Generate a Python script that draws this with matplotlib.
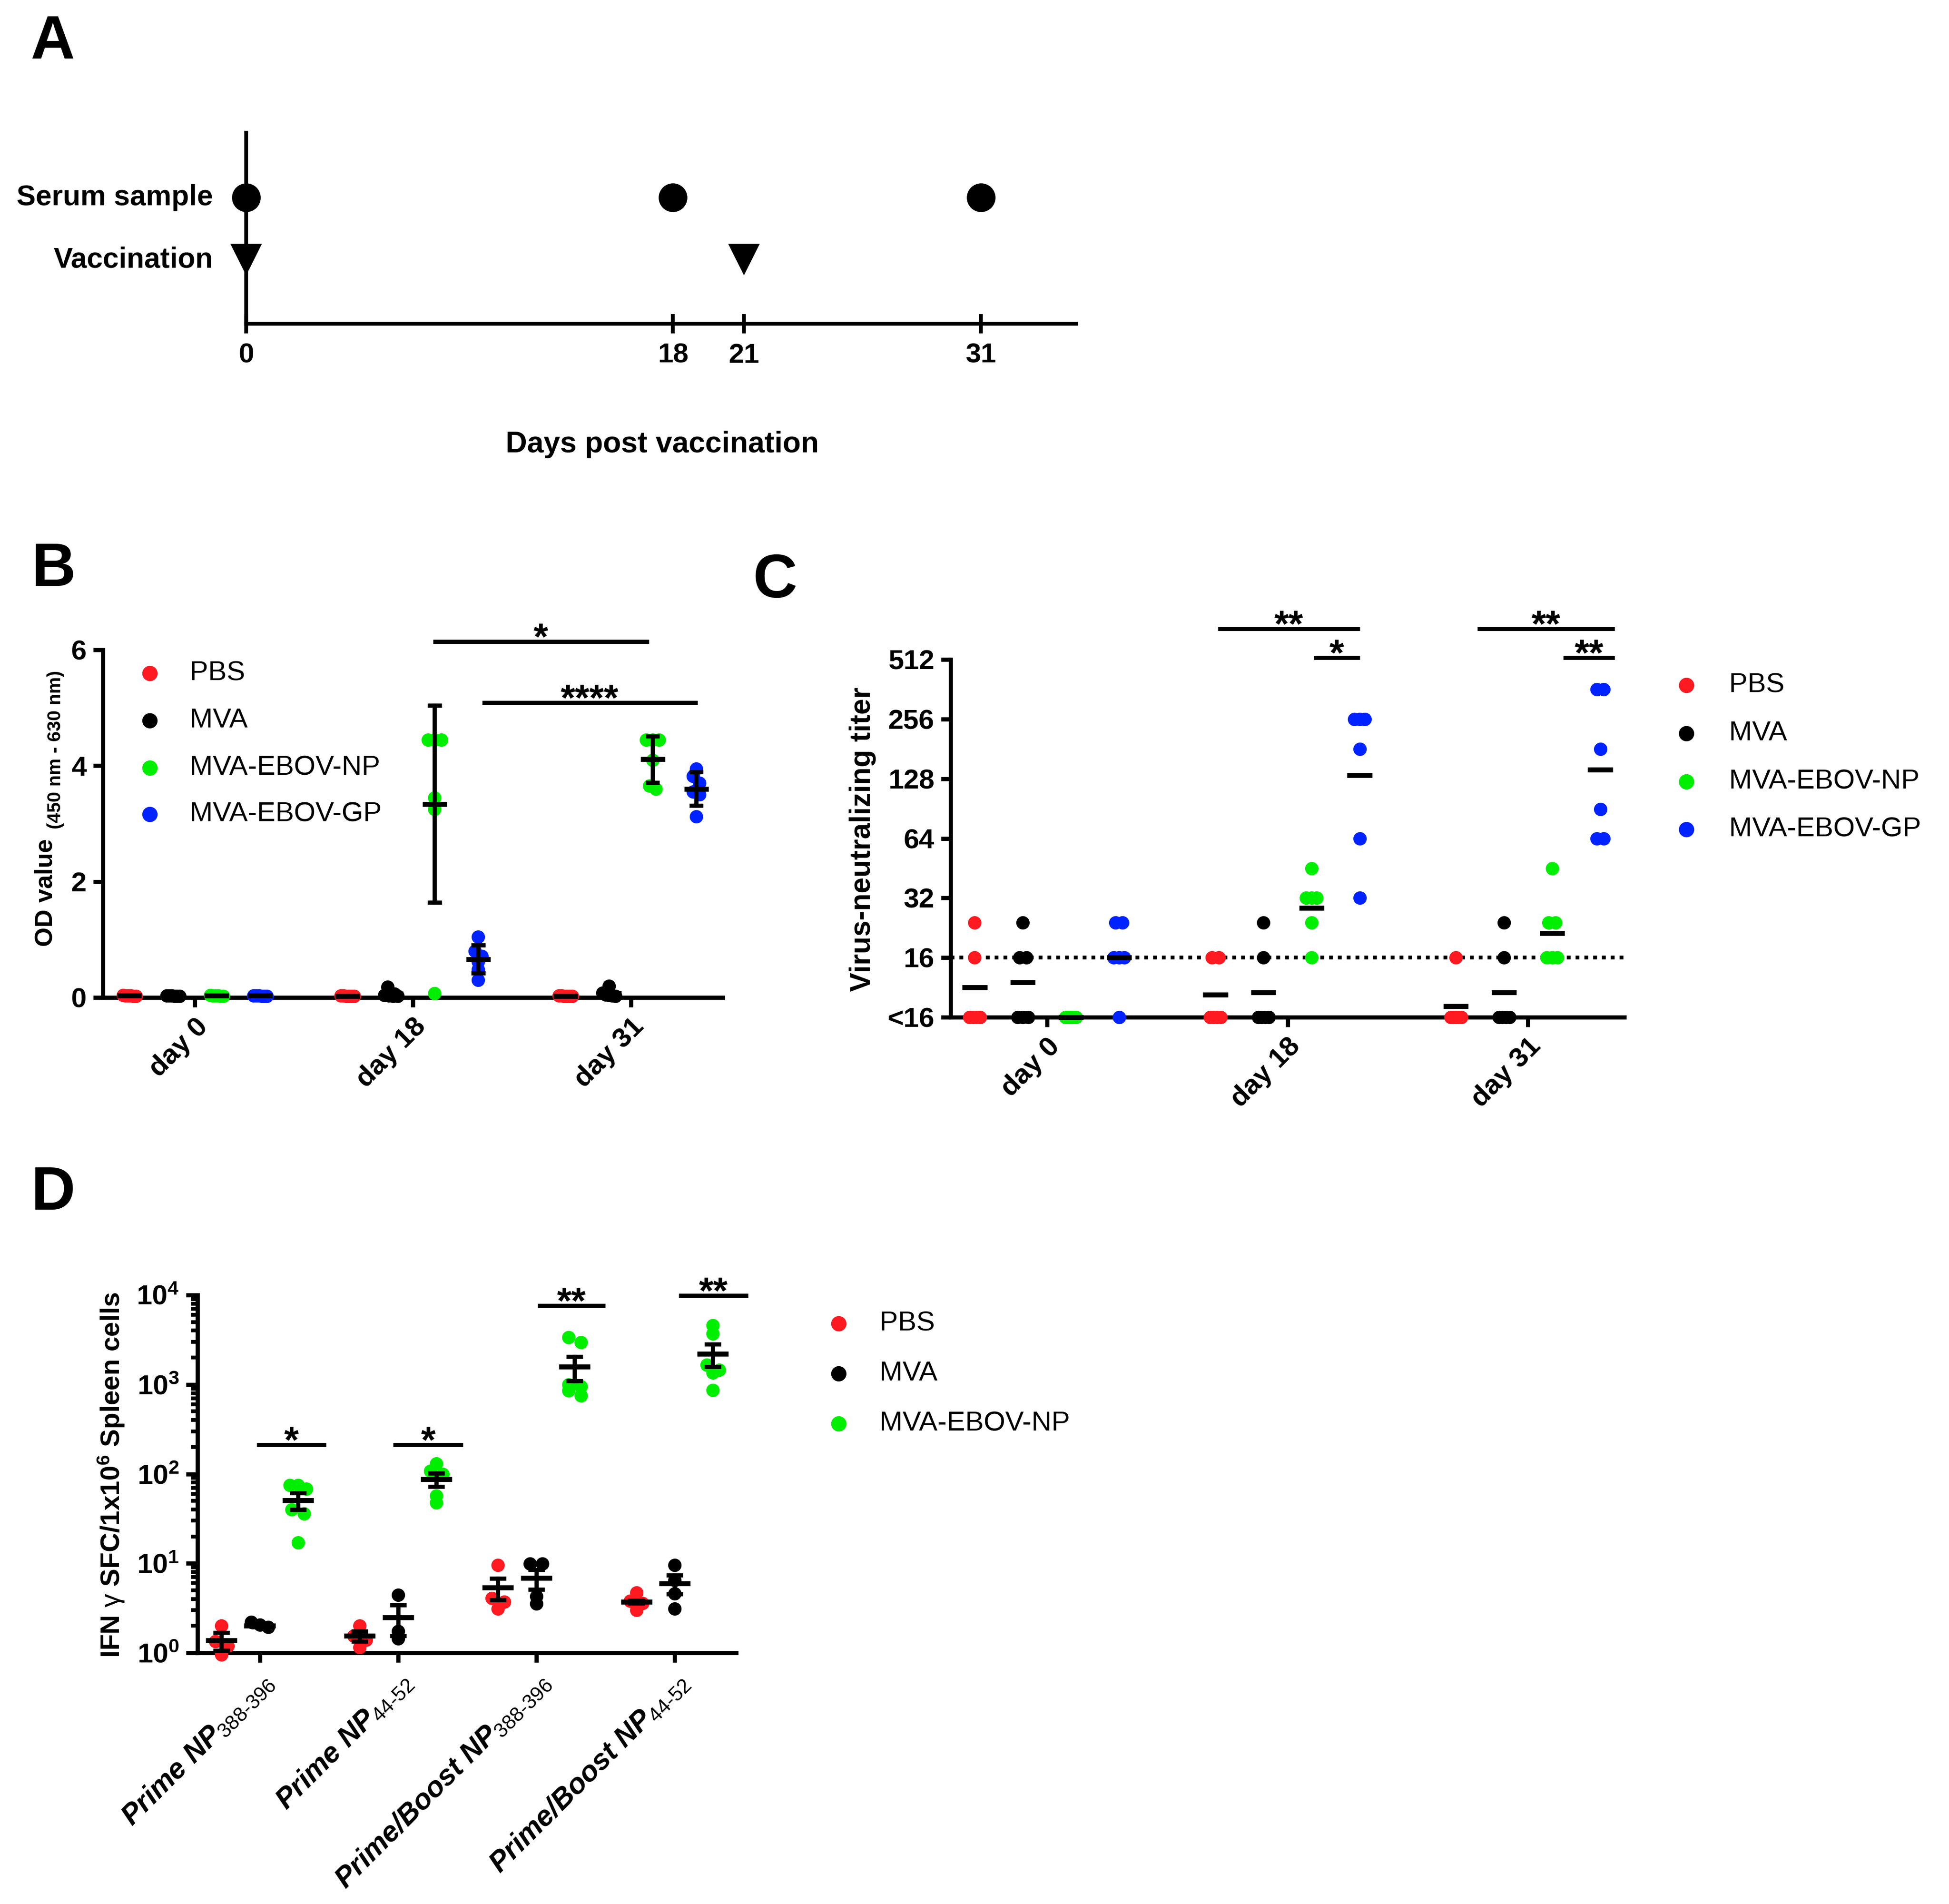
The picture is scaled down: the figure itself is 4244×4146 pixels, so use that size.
import numpy as np
import matplotlib.pyplot as plt
from matplotlib.lines import Line2D
from matplotlib.ticker import FixedLocator, FuncFormatter, LogLocator, NullFormatter

plt.rcParams['font.family'] = ['Liberation Sans', 'DejaVu Sans']
plt.rcParams['mathtext.fontset'] = 'custom'
plt.rcParams['mathtext.rm'] = 'Liberation Sans'
plt.rcParams['mathtext.it'] = 'Liberation Sans:italic'
plt.rcParams['mathtext.bf'] = 'Liberation Sans:bold'

W, H = 4244, 4146
DPI = 300

# ---------------- data ----------------
series_names = ['PBS', 'MVA', 'MVA-EBOV-NP', 'MVA-EBOV-GP']
series_colors = ['#FF1A22', '#000000', '#00EE00', '#0022FF']

# panel A: schedule
timeline_ticks = [0, 18, 21, 31]
serum_days = [0, 18, 31]
vaccination_days = [0, 21]

# panel B: ELISA OD values, [day0, day18, day31]
days = ['day 0', 'day 18', 'day 31']
od_pbs = [[0.04, 0.03, 0.02, 0.03, 0.02, 0.03],
          [0.02, 0.03, 0.02, 0.02, 0.03, 0.02],
          [0.03, 0.02, 0.02, 0.03, 0.02, 0.02]]
od_mva = [[0.03, 0.02, 0.03, 0.02, 0.03, 0.02],
          [0.18, 0.06, 0.04, 0.03, 0.02, 0.02],
          [0.20, 0.08, 0.05, 0.04, 0.03, 0.02]]
od_np = [[0.04, 0.03, 0.03, 0.02, 0.02, 0.03],
         [4.45, 4.45, 4.45, 3.45, 3.25, 0.07],
         [4.45, 4.45, 4.45, 4.10, 3.65, 3.60]]
od_gp = [[0.03, 0.03, 0.02, 0.02, 0.03, 0.02],
         [1.05, 0.80, 0.71, 0.62, 0.48, 0.30],
         [3.95, 3.82, 3.70, 3.55, 3.50, 3.12]]
od_mean = [[0.03, 0.02, 0.02], [0.03, 0.06, 0.07], [0.03, 3.34, 4.11], [0.03, 0.66, 3.60]]
od_sd = [[0, 0, 0], [0, 0, 0], [0, 1.70, 0.40], [0, 0.24, 0.29]]
od_brackets = [(5.46, 10.41, 6.14, '*'), (6.59, 11.53, 5.09, '****')]

# panel C: neutralizing titers (<16 plotted as 8)
titer_pbs = [[24, 16, 8, 8, 8, 8], [16, 16, 8, 8, 8, 8], [16, 8, 8, 8, 8, 8]]
titer_mva = [[24, 16, 16, 8, 8, 8], [24, 16, 8, 8, 8, 8], [24, 16, 8, 8, 8, 8]]
titer_np = [[8, 8, 8, 8, 8, 8], [45, 32, 32, 32, 24, 16], [45, 24, 24, 16, 16, 16]]
titer_gp = [[24, 24, 16, 16, 16, 8], [256, 256, 256, 181, 64, 32], [362, 362, 181, 90, 64, 64]]
titer_mean = [[11.3, 10.4, 9.1], [12.0, 10.7, 10.7], [8, 28.5, 21.3], [16, 133, 142]]
titer_ticks = [8, 16, 32, 64, 128, 256, 512]
titer_labels = ['<16', '16', '32', '64', '128', '256', '512']
titer_brackets = [(3.55, 6.5, 732, '**'), (5.55, 6.5, 523, '*'),
                  (8.95, 11.8, 732, '**'), (10.73, 11.8, 523, '**')]

# panel D: ELISpot
peptides = [r'Prime NP$_{\mathit{388}\text{-}\mathit{396}}$',
            r'Prime NP$_{\mathit{44}\text{-}\mathit{52}}$',
            r'Prime/Boost NP$_{\mathit{388}\text{-}\mathit{396}}$',
            r'Prime/Boost NP$_{\mathit{44}\text{-}\mathit{52}}$']
sfc_pbs = [[2.0, 1.35, 1.2, 0.95], [2.0, 1.55, 1.4, 1.15], [9.6, 4.1, 3.7, 3.1], [4.7, 3.8, 3.6, 3.0]]
sfc_mva = [[2.2, 2.05, 1.93], [4.45, 1.75, 1.45], [9.9, 9.9, 4.3, 3.55], [9.6, 6.5, 4.6, 3.1]]
sfc_np = [[75, 75, 68, 40, 36, 17], [130, 108, 100, 57, 48],
          [3350, 2950, 1000, 950, 850, 750], [4600, 3700, 1650, 1450, 1350, 870]]
sfc_mean = [[1.37, 1.54, 5.33, 3.72], [2.0, 2.49, 6.84, 5.94], [50.6, 87, 1580, 2207]]
sfc_sem = [[0.31, 0.2, 1.45, 0.12], [0.05, 0.95, 1.7, 1.4], [10.5, 15, 480, 620]]
sfc_brackets = [(-0.02, 0.48, 211, '*'), (0.965, 1.47, 211, '*'),
                (2.01, 2.5, 7590, '**'), (3.03, 3.53, 9870, '**')]


# ---------------- helpers ----------------
def fx(x):
    return x / W


def fy(y):
    return 1 - y / H


def axes_px(left, right, top, bottom):
    return fig.add_axes([fx(left), fy(bottom), (right - left) / W, (bottom - top) / H])


def spread(vals, tol, step, maxw):
    vals = np.asarray(vals, float)
    off = np.zeros(len(vals))
    order = np.argsort(-vals, kind='stable')
    i = 0
    while i < len(order):
        j = i
        while j + 1 < len(order) and abs(vals[order[j + 1]] - vals[order[i]]) <= tol:
            j += 1
        k = j - i + 1
        if k > 1:
            s = min(step, maxw / (k - 1))
            off[order[i:j + 1]] = (np.arange(k) - (k - 1) / 2) * s
        i = j + 1
    return off


def style_axes(ax):
    for s in ['top', 'right']:
        ax.spines[s].set_visible(False)
    for s in ['left', 'bottom']:
        ax.spines[s].set_linewidth(2.2)
    ax.tick_params(width=2.2, length=5, labelsize=14.5, direction='out')
    for lab in ax.get_yticklabels() + ax.get_xticklabels():
        lab.set_fontweight('bold')


def legend(xm, xt, ys, names, cols):
    for y, n, c in zip(ys, names, cols):
        fig.add_artist(Line2D([fx(xm)], [fy(y)], marker='o', ms=7, color=c, lw=0,
                              transform=fig.transFigure))
        fig.text(fx(xt), fy(y), n, fontsize=14.5, va='center', ha='left')


def bracket(ax, x0, x1, y, star):
    ax.plot([x0, x1], [y, y], color='k', lw=2.2, clip_on=False, solid_capstyle='butt')
    ax.annotate(star, xy=((x0 + x1) / 2, y), xytext=(0, -4), textcoords='offset points',
                ha='center', va='baseline', fontsize=19.5, fontweight='bold', annotation_clip=False)


def mean_bar(ax, x, m, err, half_mean, half_cap):
    ax.plot([x - half_mean, x + half_mean], [m, m], color='k', lw=2.6, clip_on=False,
            solid_capstyle='butt', zorder=4)
    if err > 0:
        ax.plot([x, x], [m - err, m + err], color='k', lw=2.2, clip_on=False, zorder=4)
        for yy in (m - err, m + err):
            ax.plot([x - half_cap, x + half_cap], [yy, yy], color='k', lw=2.2,
                    clip_on=False, solid_capstyle='butt', zorder=4)


fig = plt.figure(figsize=(W / DPI, H / DPI), dpi=DPI)

# ---------------- panel A ----------------
axA = axes_px(536, 2343, 289, 705)
axA.set_xlim(0, 35)
axA.set_ylim(0, 1)
for s in ['top', 'right']:
    axA.spines[s].set_visible(False)
axA.spines['left'].set_linewidth(2)
axA.spines['bottom'].set_linewidth(2)
axA.set_yticks([])
axA.set_xticks(timeline_ticks)
axA.set_xticklabels([str(t) for t in timeline_ticks], fontweight='bold')
axA.tick_params(axis='x', direction='inout', length=10, width=2, labelsize=14.5, pad=5)
axA.plot(serum_days, [0.661] * len(serum_days), 'o', color='k', ms=14, clip_on=False)
axA.plot(vaccination_days, [0.339] * len(vaccination_days), 'v', color='k', ms=15, clip_on=False)
fig.text(fx(464), fy(430), 'Serum sample', ha='right', va='center', fontsize=15, fontweight='bold')
fig.text(fx(464), fy(566), 'Vaccination', ha='right', va='center', fontsize=15, fontweight='bold')
fig.text(fx(1442), fy(968), 'Days post vaccination', ha='center', va='center',
         fontsize=15.5, fontweight='bold')

# ---------------- panel B ----------------
axB = axes_px(224, 1574, 1415, 2172)
axB.set_xlim(-2.11, 12.11)
axB.set_ylim(0, 6)
od_all = [od_pbs, od_mva, od_np, od_gp]
for si, grp in enumerate(od_all):
    for di, vals in enumerate(grp):
        xc = di * 5 + (si - 1.5)
        off = spread(vals, 0.12, 0.15, 0.3)
        axB.scatter(xc + off, vals, s=49, color=series_colors[si], lw=0, clip_on=False, zorder=3)
        mean_bar(axB, xc, od_mean[si][di], od_sd[si][di], 0.28, 0.16)
axB.set_yticks([0, 2, 4, 6])
axB.set_xticks([0, 5, 10])
axB.set_xticklabels(days, rotation=45, ha='right', va='top', rotation_mode='anchor')
style_axes(axB)
for b in od_brackets:
    bracket(axB, *b)
fig.text(fx(100), fy(1944), 'OD value', rotation=90, ha='center', va='center',
         fontsize=13, fontweight='bold')
fig.text(fx(121), fy(1633), '(450 nm - 630 nm)', rotation=90, ha='center', va='center',
         fontsize=9.8, fontweight='bold')
legend(326, 413, [1466, 1569, 1672, 1773], series_names, series_colors)

# ---------------- panel C ----------------
axC = axes_px(2070, 3537, 1436, 2215)
axC.set_yscale('log', base=2)
axC.set_xlim(-2, 12)
axC.set_ylim(8, 512)
axC.axhline(16, color='k', lw=2, ls=(0, (1, 1.3)), zorder=1)
titer_all = [titer_pbs, titer_mva, titer_np, titer_gp]
for si, grp in enumerate(titer_all):
    for di, vals in enumerate(grp):
        xc = di * 5 + (si - 1.5)
        off = spread(np.log2(vals), 0.1, 0.14, 0.22)
        axC.scatter(xc + off, vals, s=49, color=series_colors[si], lw=0, clip_on=False, zorder=3)
        m = titer_mean[si][di]
        axC.plot([xc - 0.26, xc + 0.26], [m, m], color='k', lw=2.6, clip_on=False,
                 solid_capstyle='butt', zorder=4)
axC.yaxis.set_major_locator(FixedLocator(titer_ticks))
axC.yaxis.set_minor_locator(FixedLocator([]))
axC.set_yticklabels(titer_labels)
axC.set_xticks([0, 5, 10])
axC.set_xticklabels(days, rotation=45, ha='right', va='top', rotation_mode='anchor')
style_axes(axC)
for b in titer_brackets:
    bracket(axC, *b)
fig.text(fx(1878), fy(1828), 'Virus-neutralizing titer', rotation=90, ha='center', va='center',
         fontsize=15, fontweight='bold')
legend(3672, 3765, [1492, 1597, 1702, 1806], series_names, series_colors)

# ---------------- panel D ----------------
axD = axes_px(430, 1603, 2820, 3599)
axD.set_yscale('log')
axD.set_xlim(-0.45, 3.445)
axD.set_ylim(1, 1e4)
sfc_all = [sfc_pbs, sfc_mva, sfc_np]
for si, grp in enumerate(sfc_all):
    for gi, vals in enumerate(grp):
        xc = gi + (si - 1) * 0.277
        off = spread(np.log10(vals), 0.06, 0.09, 0.12)
        axD.scatter(xc + off, vals, s=49, color=series_colors[si], lw=0, clip_on=False, zorder=3)
        mean_bar(axD, xc, sfc_mean[si][gi], sfc_sem[si][gi], 0.113, 0.06)
axD.yaxis.set_major_locator(FixedLocator([1, 10, 100, 1000, 10000]))
axD.yaxis.set_major_formatter(FuncFormatter(lambda v, p: r'$\mathbf{10^{%d}}$' % round(np.log10(v))))
axD.yaxis.set_minor_locator(LogLocator(base=10, subs=np.arange(2, 10)))
axD.yaxis.set_minor_formatter(NullFormatter())
axD.set_xticks(range(len(peptides)))
axD.set_xticklabels(peptides, rotation=45, ha='right', va='top', rotation_mode='anchor',
                    fontstyle='italic')
style_axes(axD)
axD.tick_params(axis='x', labelsize=15)
axD.tick_params(axis='y', which='major', length=6)
axD.tick_params(axis='y', which='minor', length=3.4, width=2)
for b in sfc_brackets:
    bracket(axD, *b)
fig.text(fx(242), fy(3212), r'IFN $\mathrm{\gamma}$ SFC/1x10$^{\mathbf{6}}$ Spleen cells',
         rotation=90, ha='center', va='center', fontsize=14, fontweight='bold')
legend(1826, 1915, [2882, 2991, 3100], series_names[:3], series_colors[:3])

# panel letters
for letter, (x, y) in zip('ABCD', [(115, 94), (116, 1241), (1688, 1266), (115, 2600)]):
    fig.text(fx(x), fy(y), letter, ha='center', va='center', fontsize=32, fontweight='bold')

fig.savefig('out.png', dpi=DPI)
